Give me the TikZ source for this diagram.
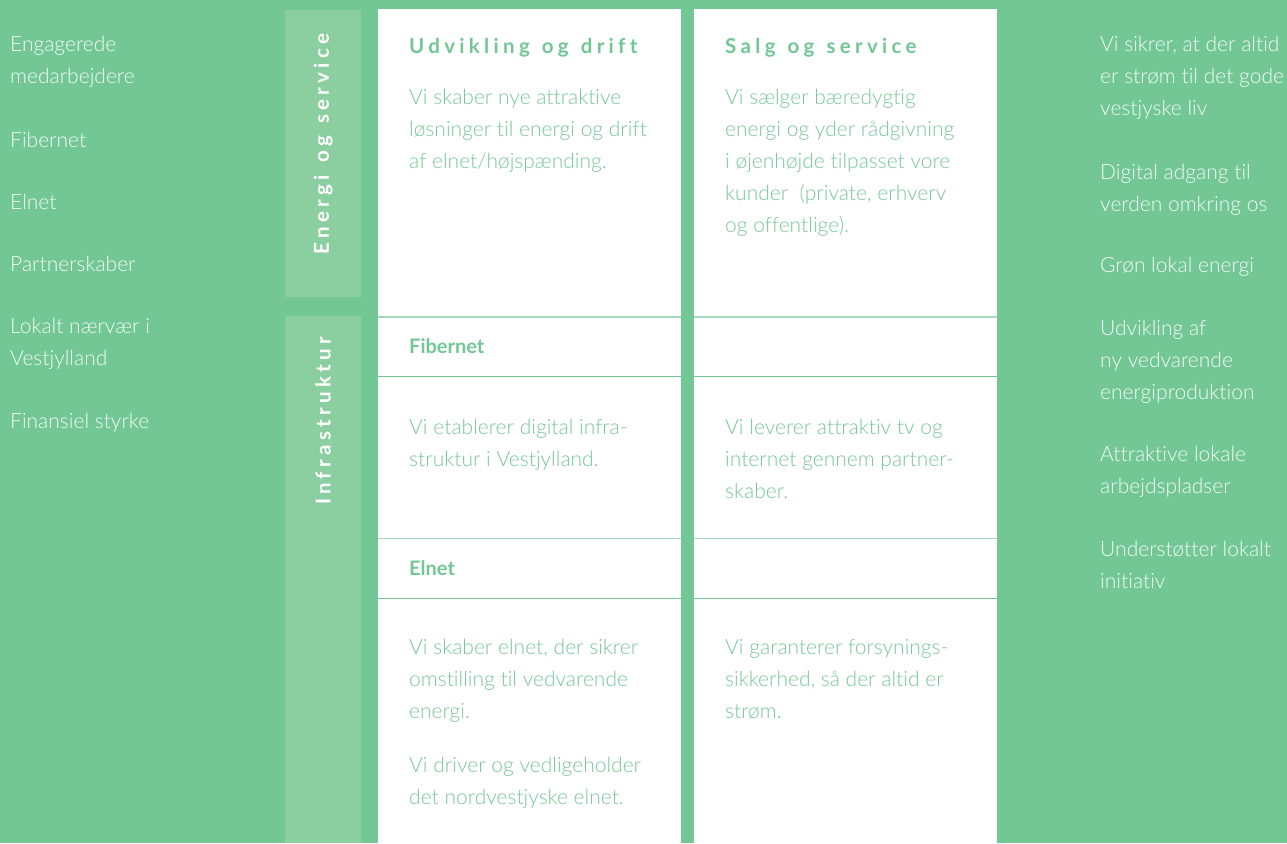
\documentclass[tikz,border=0pt]{standalone}
\usepackage{fontspec}
\setmainfont{Lato}[UprightFont={* Light}, BoldFont={* Bold}, Ligatures=NoCommon]
\newfontfamily\spacedfont{Lato}[LetterSpace=21, Ligatures=NoCommon, WordSpace=1.3]
\definecolor{bg}{HTML}{72C795}
\definecolor{strip}{HTML}{8BCEA0}
\definecolor{txt}{HTML}{78C898}
\definecolor{lite}{HTML}{F3FBF5}
\definecolor{rulec}{HTML}{72C795}
\definecolor{rulelite}{HTML}{A6DBB9}
\newcommand{\pb}[1]{\parbox[t]{300pt}{\raggedright #1}}
\tikzset{
  bodyfont/.style={font=\fontsize{21}{32}\selectfont},
  para/.style={bodyfont, anchor=base west, inner sep=0pt, text=txt},
  side/.style={bodyfont, anchor=base west, inner sep=0pt, text=lite},
  head/.style={anchor=base west, inner sep=0pt, text=bg, font=\spacedfont\bfseries\fontsize{20.5}{24}\selectfont},
  sub/.style={anchor=base west, inner sep=0pt, text=bg, font=\bfseries\fontsize{20}{24}\selectfont},
  striplabel/.style={rotate=90, inner sep=0pt, text=white, font=\spacedfont\bfseries\fontsize{20.5}{24}\selectfont},
  rowline/.style={draw=rulec, line width=1.3pt},
}
\begin{document}
\begin{tikzpicture}[x=1pt,y=-1pt]
\useasboundingbox (0,0) rectangle (1287,843);
\fill[bg] (0,0) rectangle (1287,843);
% strips
\fill[strip] (285,10) rectangle (361,297);
\fill[strip] (285,316) rectangle (361,843);
% white columns
\fill[white] (378,9) rectangle (681,843);
\fill[white] (694,9) rectangle (997,843);
% row lines
\draw[rowline, draw=rulelite] (378,317) -- (681,317);
\draw[rowline, draw=rulelite] (694,317) -- (997,317);
\draw[rowline] (378,376.5) -- (681,376.5);
\draw[rowline] (694,376.5) -- (997,376.5);
\draw[rowline, draw=rulelite] (378,538.5) -- (681,538.5);
\draw[rowline, draw=rulelite] (694,538.5) -- (997,538.5);
\draw[rowline] (378,598.5) -- (681,598.5);
\draw[rowline] (694,598.5) -- (997,598.5);
% strip labels
\node[striplabel] (s1) at (323,144) {Energi og service};
\node[striplabel] (s2) at (323,421) {Infrastruktur};
% left list
\node[side] (l1) at (10,52) {\pb{Engagerede\\medarbejdere}};
\node[side] (l2) at (10,147) {Fibernet};
\node[side] (l3) at (10,209) {Elnet};
\node[side] (l4) at (10,271) {Partnerskaber};
\node[side] (l5) at (10,333) {\pb{Lokalt nærvær i\\Vestjylland}};
\node[side] (l6) at (10,428) {Finansiel styrke};
% right list
\node[side] (r1) at (1100,52) {\pb{Vi sikrer, at der altid\\er strøm til det gode\\vestjyske liv}};
\node[side] (r2) at (1100,179) {\pb{Digital adgang til\\verden omkring os}};
\node[side] (r3) at (1100,272) {Grøn lokal energi};
\node[side] (r4) at (1100,335) {\pb{Udvikling af\\ny vedvarende\\energiproduktion}};
\node[side] (r5) at (1100,461) {\pb{Attraktive lokale\\arbejdspladser}};
\node[side] (r6) at (1100,556) {\pb{Understøtter lokalt\\initiativ}};
% column 1
\node[head] (h1) at (409,54) {Udvikling og drift};
\node[para] (c1a) at (409,104) {\pb{Vi skaber nye attraktive\\løsninger til energi og drift\\af elnet/højspænding.}};
\node[sub] (f1) at (409,353) {Fibernet};
\node[para] (c1b) at (409,434) {\pb{Vi etablerer digital infra-\\struktur i Vestjylland.}};
\node[sub] (e1) at (409,575) {Elnet};
\node[para] (c1c) at (409,654) {\pb{Vi skaber elnet, der sikrer\\omstilling til vedvarende\\energi.}};
\node[para] (c1d) at (409,772) {\pb{Vi driver og vedligeholder\\det nordvestjyske elnet.}};
% column 2
\node[head] (h2) at (725,54) {Salg og service};
\node[para] (c2a) at (725,104) {\pb{Vi sælger bæredygtig\\energi og yder rådgivning\\i øjenhøjde tilpasset vore\\kunder~ (private, erhverv\\og offentlige).}};
\node[para] (c2b) at (725,434) {\pb{Vi leverer attraktiv tv og\\internet gennem partner-\\skaber.}};
\node[para] (c2c) at (725,654) {\pb{Vi garanterer forsynings-\\sikkerhed, så der altid er\\strøm.}};
\end{tikzpicture}
\end{document}
